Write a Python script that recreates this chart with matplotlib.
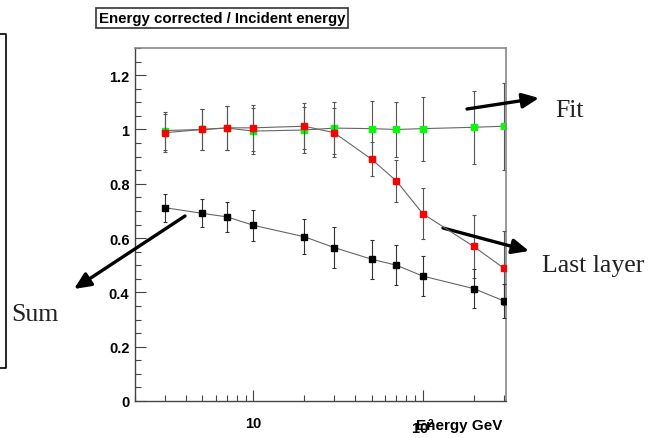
import matplotlib
matplotlib.use("Agg")
import matplotlib.pyplot as plt
from matplotlib.ticker import FixedLocator, MultipleLocator, LogLocator, NullFormatter

plt.rcParams['font.family'] = ['Liberation Sans', 'DejaVu Sans']
plt.rcParams['mathtext.fontset'] = 'custom'
plt.rcParams['mathtext.rm'] = 'Liberation Sans:bold'
plt.rcParams['mathtext.bf'] = 'Liberation Sans:bold'

# ---- data ----
energy = [3, 5, 7, 10, 20, 30, 50, 70, 100, 200, 300]
fit_vals = [0.996, 1.000, 1.005, 0.994, 0.998, 1.005, 1.003, 1.000, 1.003, 1.008, 1.012]
fit_err = [0.07, 0.075, 0.08, 0.085, 0.085, 0.095, 0.10, 0.10, 0.118, 0.135, 0.16]
last_vals = [0.988, 1.000, 1.006, 1.006, 1.012, 0.988, 0.890, 0.810, 0.690, 0.569, 0.490]
last_err = [0.07, 0.075, 0.08, 0.085, 0.085, 0.09, 0.062, 0.077, 0.094, 0.115, 0.135]
sum_vals = [0.712, 0.691, 0.678, 0.647, 0.605, 0.565, 0.522, 0.500, 0.460, 0.414, 0.369]
sum_err = [0.051, 0.052, 0.054, 0.056, 0.065, 0.075, 0.072, 0.073, 0.075, 0.073, 0.062]

title_text = "Energy corrected / Incident energy"
xlabel_text = "Energy GeV"
ytick_vals = [0, 0.2, 0.4, 0.6, 0.8, 1.0, 1.2]
ytick_labels = ["0", "0.2", "0.4", "0.6", "0.8", "1", "1.2"]
xtick_vals = [10, 100]
xtick_labels = ["10", "$10^{2}$"]

W, H = 652, 439
fig = plt.figure(figsize=(W / 100, H / 100), dpi=100)
ax_h = 402 - 49
ax_w = 505.7 - 135
ax = fig.add_axes([135 / W, 1 - 402 / H, ax_w / W, ax_h / H])

line_col = '#666666'
err_col = '#555555'

ax.errorbar(energy, fit_vals, yerr=fit_err, fmt='s', color=line_col, ecolor=err_col,
            elinewidth=0.8, capsize=1.5, capthick=0.8, markersize=5,
            markerfacecolor='#00ff00', markeredgecolor='#00ff00', ls='-', lw=0.8, zorder=2)
ax.errorbar(energy, last_vals, yerr=last_err, fmt='s', color=line_col, ecolor=err_col,
            elinewidth=0.8, capsize=1.5, capthick=0.8, markersize=5,
            markerfacecolor='#ff0000', markeredgecolor='#ff0000', ls='-', lw=0.8, zorder=3)
ax.errorbar(energy, sum_vals, yerr=sum_err, fmt='s', color=line_col, ecolor='#333333',
            elinewidth=0.8, capsize=1.5, capthick=0.8, markersize=4.5,
            markerfacecolor='black', markeredgecolor='black', ls='-', lw=0.8, zorder=3)

ax.set_xscale('log')
ax.set_xlim(2.0, 309)
ax.set_ylim(0, 1.3)

ax.xaxis.set_major_locator(FixedLocator(xtick_vals))
ax.set_xticklabels(xtick_labels)
ax.xaxis.set_minor_locator(LogLocator(base=10, subs=range(2, 10), numticks=20))
ax.xaxis.set_minor_formatter(NullFormatter())
ax.set_yticks(ytick_vals)
ax.set_yticklabels(ytick_labels)
ax.yaxis.set_minor_locator(MultipleLocator(0.05))

ax.tick_params(axis='both', which='major', direction='in', length=8, width=0.8,
               color='#444444', labelsize=10.5, pad=4)
ax.tick_params(axis='both', which='minor', direction='in', length=4, width=0.8, color='#444444')
ax.tick_params(axis='x', which='major', pad=11)
for lab in ax.get_xticklabels() + ax.get_yticklabels():
    lab.set_fontweight('bold')

for s in ['left', 'bottom']:
    ax.spines[s].set_color('#444444')
    ax.spines[s].set_linewidth(1.0)
for s in ['top', 'right']:
    ax.spines[s].set_color('#888888')
    ax.spines[s].set_linewidth(1.2)

# x label placed right-aligned below the axis (overlapping the 10^2 label as in the reference)
ax.text((502 - 135) / ax_w, -(426 - 402) / ax_h, xlabel_text, transform=ax.transAxes,
        ha='right', va='center', fontsize=11, fontweight='bold')

# title box
fig.text(222 / W, 1 - 18.5 / H, title_text, ha='center', va='center', fontsize=10.8,
         fontweight='bold',
         bbox=dict(boxstyle='square,pad=0.2', fc='white', ec='#333333', lw=1.2))

# left box fragment
fig.add_artist(plt.Line2D([0, 6 / W, 6 / W, 0], [1 - 35 / H, 1 - 35 / H, 1 - 369 / H, 1 - 369 / H],
                          transform=fig.transFigure, color='black', lw=1.2))

# annotations
arrow_kw = dict(arrowstyle='-|>,head_length=1.0,head_width=0.45', color='black', lw=2.4,
                shrinkA=0, shrinkB=0)
def fp(x, y):
    return (x, H - y)

ax.annotate('', xy=fp(539, 99), xytext=fp(467, 110), xycoords='figure pixels',
            textcoords='figure pixels', arrowprops=arrow_kw, annotation_clip=False)
ax.annotate('', xy=fp(529, 252), xytext=fp(443, 229), xycoords='figure pixels',
            textcoords='figure pixels', arrowprops=arrow_kw, annotation_clip=False)
ax.annotate('', xy=fp(74, 290), xytext=fp(185, 217), xycoords='figure pixels',
            textcoords='figure pixels', arrowprops=arrow_kw, annotation_clip=False)

serif = ['Liberation Serif', 'DejaVu Serif']
fig.text(555 / W, 1 - 111 / H, 'Fit', ha='left', va='center', fontsize=18.5, family=serif, color='#222222')
fig.text(542 / W, 1 - 266 / H, 'Last layer', ha='left', va='center', fontsize=18.5, family=serif, color='#222222')
fig.text(11 / W, 1 - 315 / H, 'Sum', ha='left', va='center', fontsize=18.5, family=serif, color='#222222')

fig.savefig('out.png', dpi=100)
